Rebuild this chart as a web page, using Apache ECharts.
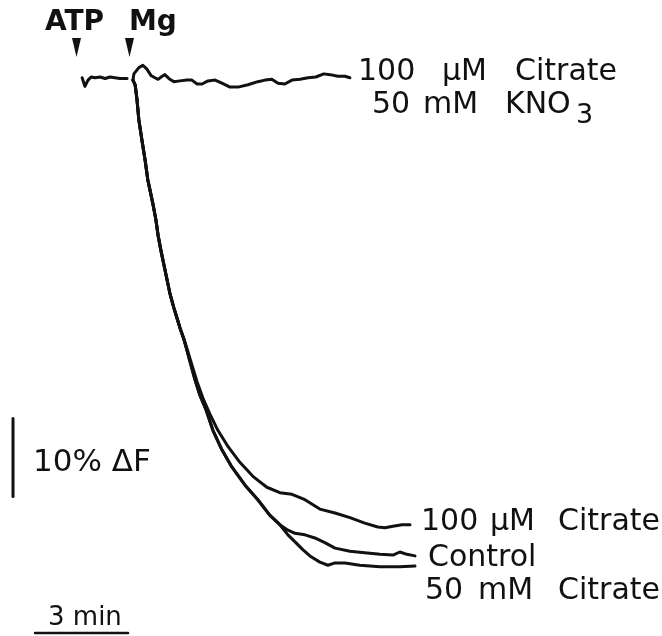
<!DOCTYPE html>
<html><head><meta charset="utf-8">
<script src="https://cdn.jsdelivr.net/npm/echarts@6/dist/echarts.min.js"></script>
<style>html,body{margin:0;padding:0;background:#fff}#c{width:662px;height:636px}</style>
</head><body><div id="c"></div>
<script>
// time in min, fluorescence change in %ΔF (0 = baseline)
var preT = [0.23,0.32,0.42,0.52,0.65,0.81,0.97,1.13,1.29,1.45,1.68];
var preV = [-0.1,-1.2,-0.4,0,-0.1,0,-0.2,0,-0.1,-0.2,-0.2];

var kno3T = [1.87,1.90,2.06,2.19,2.32,2.45,2.58,2.68,2.81,2.90,3.06,3.19,3.39,3.61,3.77,3.94,4.10,4.29,4.52,4.74,5.00,5.26,5.58,5.90,6.13,6.35,6.55,6.77,7.00,7.26,7.52,7.77,8.03,8.23,8.48,8.71,8.87];
var kno3V = [-0.4,0.4,1.2,1.5,1.0,0.2,-0.1,-0.3,0.1,0.3,-0.3,-0.6,-0.5,-0.4,-0.4,-0.9,-0.9,-0.5,-0.4,-0.8,-1.3,-1.3,-1.0,-0.6,-0.4,-0.3,-0.8,-0.9,-0.4,-0.3,-0.1,0,0.4,0.3,0.1,0.1,-0.1];

var trunkT = [1.87,1.90,1.94,2.00,2.06,2.16,2.26,2.35,2.42,2.52,2.61,2.68,2.77,2.87,2.97,3.06,3.19,3.29,3.39,3.52];
var trunkV = [-0.4,-0.3,-1.0,-2.9,-5.5,-8.1,-10.6,-13.2,-14.5,-16.4,-18.3,-20.3,-22.2,-24.1,-26.0,-27.7,-29.6,-30.9,-32.2,-33.7];

var cit100T = [3.65,3.77,3.94,4.13,4.35,4.61,4.94,5.32,5.74,6.19,6.61,7.00,7.42,7.90,8.39,8.87,9.35,9.77,10.00,10.26,10.55,10.81];
var cit100V = [-35.3,-36.9,-39.1,-41.2,-43.2,-45.3,-47.4,-49.4,-51.2,-52.6,-53.3,-53.5,-54.2,-55.4,-55.9,-56.5,-57.2,-57.7,-57.8,-57.6,-57.4,-57.4];

var sharedT = [3.61,3.71,3.87,4.03,4.23,4.45,4.74,5.06,5.48,5.90,6.29,6.61];
var sharedV = [-35.0,-36.5,-38.8,-40.8,-42.7,-45.3,-47.8,-50.0,-52.3,-54.2,-56.2,-57.4];

var controlT = [6.87,7.10,7.42,7.74,8.06,8.39,8.87,9.35,9.84,10.26,10.48,10.71,10.97];
var controlV = [-58.1,-58.5,-58.7,-59.1,-59.7,-60.4,-60.8,-61.0,-61.2,-61.3,-60.9,-61.2,-61.4];

var cit50T = [6.87,7.10,7.35,7.58,7.90,8.16,8.39,8.71,9.19,9.84,10.48,10.97];
var cit50V = [-58.7,-59.6,-60.6,-61.4,-62.2,-62.6,-62.3,-62.3,-62.6,-62.8,-62.8,-62.7];

// scale bars: 10 %ΔF and 3 min
var vBarT = [-2.0,-2.0];
var vBarV = [-43.8,-53.8];
var hBarT = [-1.29,1.71];
var hBarV = [-71.3,-71.3];

function zip(t, v){ return t.map(function(x,i){ return [x, v[i]]; }); }
var ink = '#111';
var FONT = '"DejaVu Sans"';
function ln(data, w){
  return {type:'line', data:data, symbol:'none', smooth:false, silent:true,
    lineStyle:{color:ink, width:w||3, cap:'round', join:'round'}};
}
function txt(s, x, y, size, weight){
  return {type:'text', style:{text:s, x:x, y:y, align:'left', verticalAlign:'middle',
    font:(weight||'normal')+' '+size+'px '+FONT, fill:ink}};
}
var chart = echarts.init(document.getElementById('c'));
chart.setOption({
  animation:false,
  backgroundColor:'#fff',
  grid:{left:0,right:0,top:0,bottom:0},
  xAxis:{type:'value', min:-2.42, max:18.94, show:false},
  yAxis:{type:'value', min:-71.67, max:9.87, show:false},
  series:[
    ln(zip(preT,preV)),
    ln(zip(kno3T,kno3V)),
    ln(zip(trunkT.concat(cit100T), trunkV.concat(cit100V))),
    ln(zip(trunkT.concat(sharedT, controlT), trunkV.concat(sharedV, controlV))),
    ln(zip(trunkT.concat(sharedT, cit50T), trunkV.concat(sharedV, cit50V))),
    ln(zip(vBarT,vBarV), 3),
    ln(zip(hBarT,hBarV), 2.5)
  ],
  graphic:[
    txt('ATP', 45, 23, 28, 'bold'),
    txt('Mg', 129, 23, 28, 'bold'),
    {type:'polygon', shape:{points:[[72,38],[81,38],[76.5,57]]}, style:{fill:ink}},
    {type:'polygon', shape:{points:[[125,38],[134,38],[129.5,57]]}, style:{fill:ink}},
    txt('100', 358, 72, 30), txt('μM', 442, 72, 30), txt('Citrate', 515, 72, 30),
    txt('50', 372, 105, 30), txt('mM', 423, 105, 30), txt('KNO', 505, 105, 30), txt('3', 576, 116, 27),
    txt('100', 421, 522, 30), txt('μM', 490, 522, 30), txt('Citrate', 558, 522, 30),
    txt('Control', 428, 558, 30),
    txt('50', 425, 591, 30), txt('mM', 478, 591, 30), txt('Citrate', 558, 591, 30),
    txt('10% ΔF', 33, 463, 31),
    txt('3 min', 48, 618, 26)
  ]
});
</script></body></html>
